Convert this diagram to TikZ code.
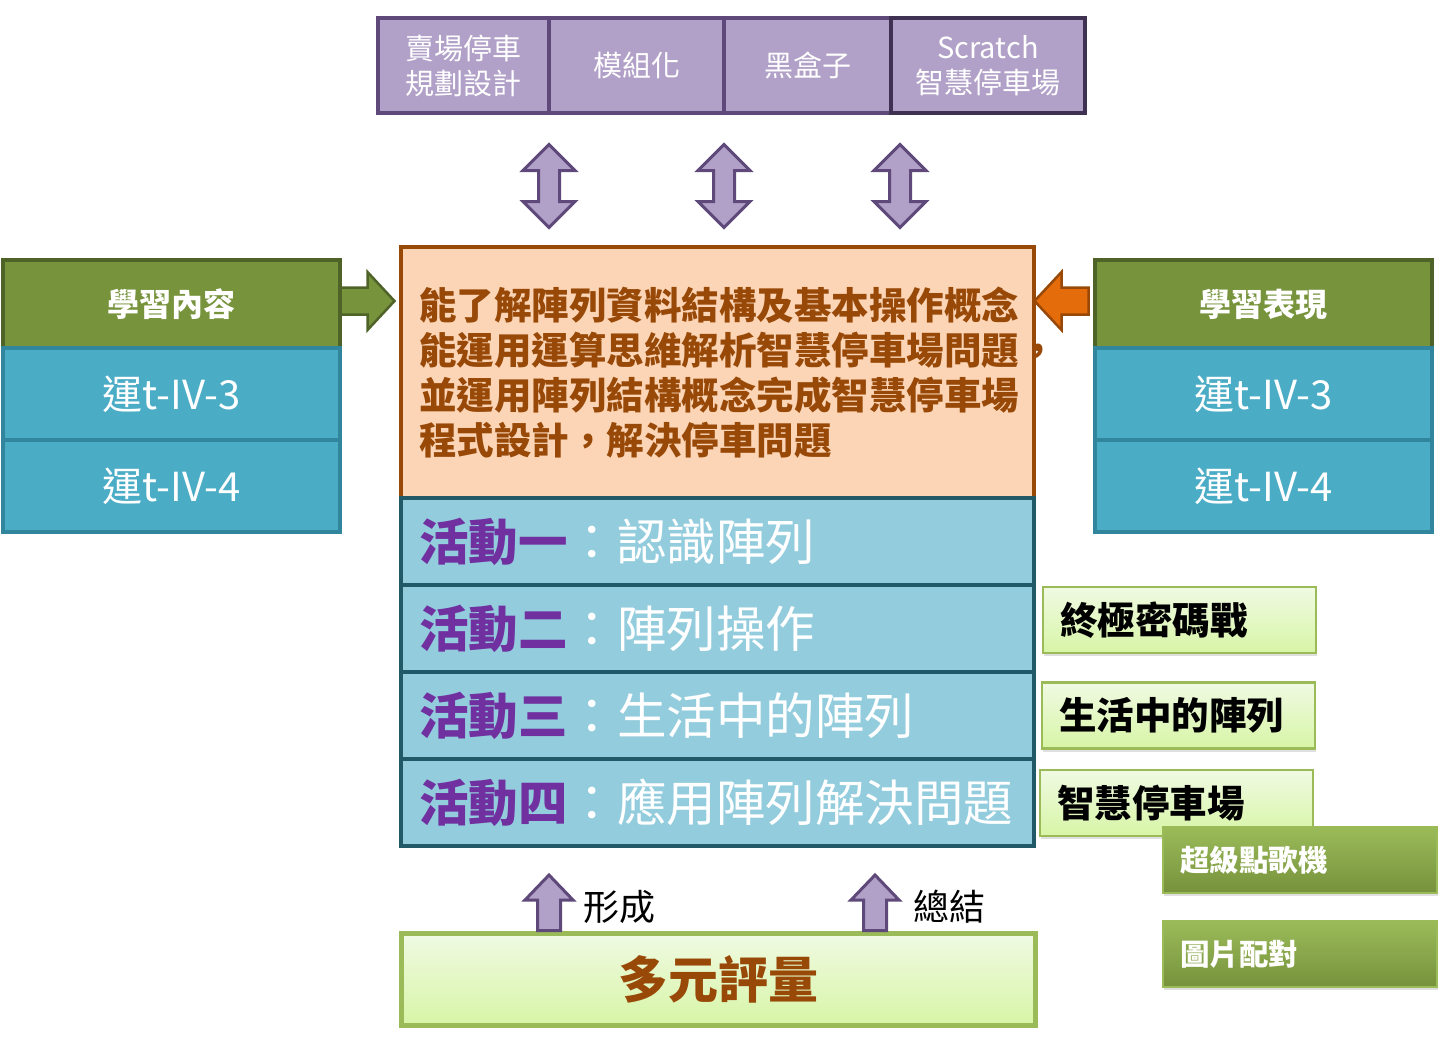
\documentclass[tikz,border=0pt]{standalone}
\usepackage{fontspec}
\setmainfont{Noto Sans CJK TC}
\usepackage{xcolor}
\usetikzlibrary{positioning, shadows}
\definecolor{topfill}{HTML}{B1A0C7}
\definecolor{topline}{HTML}{5F497A}
\definecolor{topdark}{HTML}{3F3151}
\definecolor{headfill}{HTML}{77933C}
\definecolor{headline}{HTML}{4F6228}
\definecolor{codefill}{HTML}{4BACC6}
\definecolor{codeline}{HTML}{31859C}
\definecolor{goalfill}{HTML}{FBD5B5}
\definecolor{goalline}{HTML}{984807}
\definecolor{arrorange}{HTML}{E46C0A}
\definecolor{actfill}{HTML}{93CDDD}
\definecolor{actline}{HTML}{215968}
\definecolor{actpurple}{HTML}{7030A0}
\definecolor{gametop}{HTML}{F0FAE3}
\definecolor{gamebot}{HTML}{D7F5A6}
\definecolor{gameline}{HTML}{9BBB59}
\definecolor{darktop}{HTML}{9BBB59}
\definecolor{darkbot}{HTML}{76923C}

\begin{document}
\begin{tikzpicture}[
    x=1pt, y=-1pt,
    node distance=0pt,
    topbox/.style={draw=topline, fill=topfill, line width=3.5pt, outer sep=0pt,
                   minimum height=95pt, text=white, align=center,
                   font=\fontsize{29}{35}\selectfont},
    headbox/.style={draw=headline, fill=headfill, line width=4pt, outer sep=0pt,
                    minimum width=337pt, minimum height=88pt, text=white,
                    font=\bfseries\fontsize{32}{38}\selectfont},
    codebox/.style={draw=codeline, fill=codefill, line width=4pt, outer sep=0pt,
                    minimum width=337pt, minimum height=92pt, text=white,
                    font=\fontsize{40}{46}\selectfont},
    actbox/.style={draw=actline, fill=actfill, line width=4pt, outer sep=0pt,
                   minimum width=633pt, minimum height=87pt, text width=597pt,
                   inner xsep=18pt, align=left, text=white,
                   font=\fontsize{49.5}{56}\selectfont},
    gamebox/.style={draw=gameline, line width=2.5pt, top color=gametop, bottom color=gamebot,
                    minimum width=273pt, minimum height=66pt, text width=239pt,
                    inner xsep=17pt, align=left,
                    font=\bfseries\fontsize{37.5}{42}\selectfont,
                    drop shadow={opacity=0.25, shadow xshift=1pt, shadow yshift=-3pt}},
    darkbox/.style={draw=gameline, line width=2pt, top color=darktop, bottom color=darkbot,
                    minimum width=274pt, minimum height=66pt, text width=240pt,
                    inner xsep=17pt, align=left, text=white,
                    font=\bfseries\fontsize{29.5}{34}\selectfont,
                    drop shadow={opacity=0.25, shadow xshift=1pt, shadow yshift=-3pt}},
    blockarr/.style={draw=topline, fill=topfill, line width=3pt, line join=miter},
    updown/.pic={\path[blockarr] (0,-41.5) -- (26,-15.5) -- (10.5,-15.5) -- (10.5,15.5)
                 -- (26,15.5) -- (0,41.5) -- (-26,15.5) -- (-10.5,15.5) -- (-10.5,-15.5)
                 -- (-26,-15.5) -- cycle;},
    uparr/.pic={\path[blockarr] (0,-28) -- (24,-3) -- (11.5,-3) -- (11.5,27.5)
                -- (-11.5,27.5) -- (-11.5,-3) -- (-24,-3) -- cycle;},
    fatarr/.pic={\path[pic actions, line width=2.5pt, line join=miter] (-27,-13.5) -- (0,-13.5) -- (0,-29)
                 -- (27,0) -- (0,29) -- (0,13.5) -- (-27,13.5) -- cycle;},
  ]
  \useasboundingbox (0,0) rectangle (1445,1037);

  % Units
  \node[topbox, minimum width=171pt] (sell) at (463.5,65.5) {賣場停車\\規劃設計};
  \node[topbox, minimum width=175pt, right=of sell] (module) {模組化};
  \node[topbox, minimum width=167pt, right=of module] (blackbox) {黑盒子};
  \node[topbox, draw=topdark, minimum width=194pt, right=of blackbox] (scratch) {Scratch\\智慧停車場};

  \pic at (549,186) {updown};
  \pic at (724,186) {updown};
  \pic at (900,186) {updown};

  % Learning content
  \node[headbox] (content) at (171.5,304) {學習內容};
  \node[codebox, below=of content] (contentA) {運t-IV-3};
  \node[codebox, below=of contentA] (contentB) {運t-IV-4};

  % Learning performance
  \node[headbox] (perform) at (1263.5,304) {學習表現};
  \node[codebox, below=of perform] (performA) {運t-IV-3};
  \node[codebox, below=of performA] (performB) {運t-IV-4};

  % Goal
  \node[draw=goalline, fill=goalfill, line width=3.5pt, outer sep=0pt,
        minimum width=633pt, minimum height=251pt, text width=597pt, inner xsep=18pt,
        align=left, text=goalline, font=\bfseries\fontsize{37.5}{45}\selectfont]
        (goal) at (717.5,372.5)
        {能了解陣列資料結構及基本操作概念\\能運用運算思維解析智慧停車場問題，\\並運用陣列結構概念完成智慧停車場\\程式設計，解決停車問題};

  \pic[draw=headline, fill=headfill] at (367.5,301) {fatarr};
  \pic[draw=goalline, fill=arrorange, xscale=-1] at (1061.5,301) {fatarr};

  % Activities
  \node[actbox, below=of goal] (act1) {{\bfseries\color{actpurple}活動一}：認識陣列};
  \node[actbox, below=of act1] (act2) {{\bfseries\color{actpurple}活動二}：陣列操作};
  \node[actbox, below=of act2] (act3) {{\bfseries\color{actpurple}活動三}：生活中的陣列};
  \node[actbox, below=of act3] (act4) {{\bfseries\color{actpurple}活動四}：應用陣列解決問題};

  % Games
  \node[gamebox] (game1) at (1179.5,620) {終極密碼戰};
  \node[gamebox] (game2) at (1178.5,715.5) {生活中的陣列};
  \node[gamebox] (game3) at (1176.5,803) {智慧停車場};
  \node[darkbox] (game4) at (1300,860) {超級點歌機};
  \node[darkbox] (game5) at (1300,954) {圖片配對};

  % Assessment
  \node[draw=gameline, line width=5pt, top color=gametop, bottom color=gamebot,
        minimum width=634pt, minimum height=92pt, text=goalline,
        font=\bfseries\fontsize{50}{58}\selectfont,
        drop shadow={opacity=0.25, shadow xshift=1pt, shadow yshift=-3pt}]
        (assess) at (718,979) {多元評量};
  \pic at (549,903) {uparr};
  \pic at (875,903) {uparr};
  \node[anchor=west, font=\fontsize{36}{42}\selectfont] (form) at (580,907) {形成};
  \node[anchor=west, font=\fontsize{36}{42}\selectfont] (summ) at (910,907) {總結};

\end{tikzpicture}
\end{document}
